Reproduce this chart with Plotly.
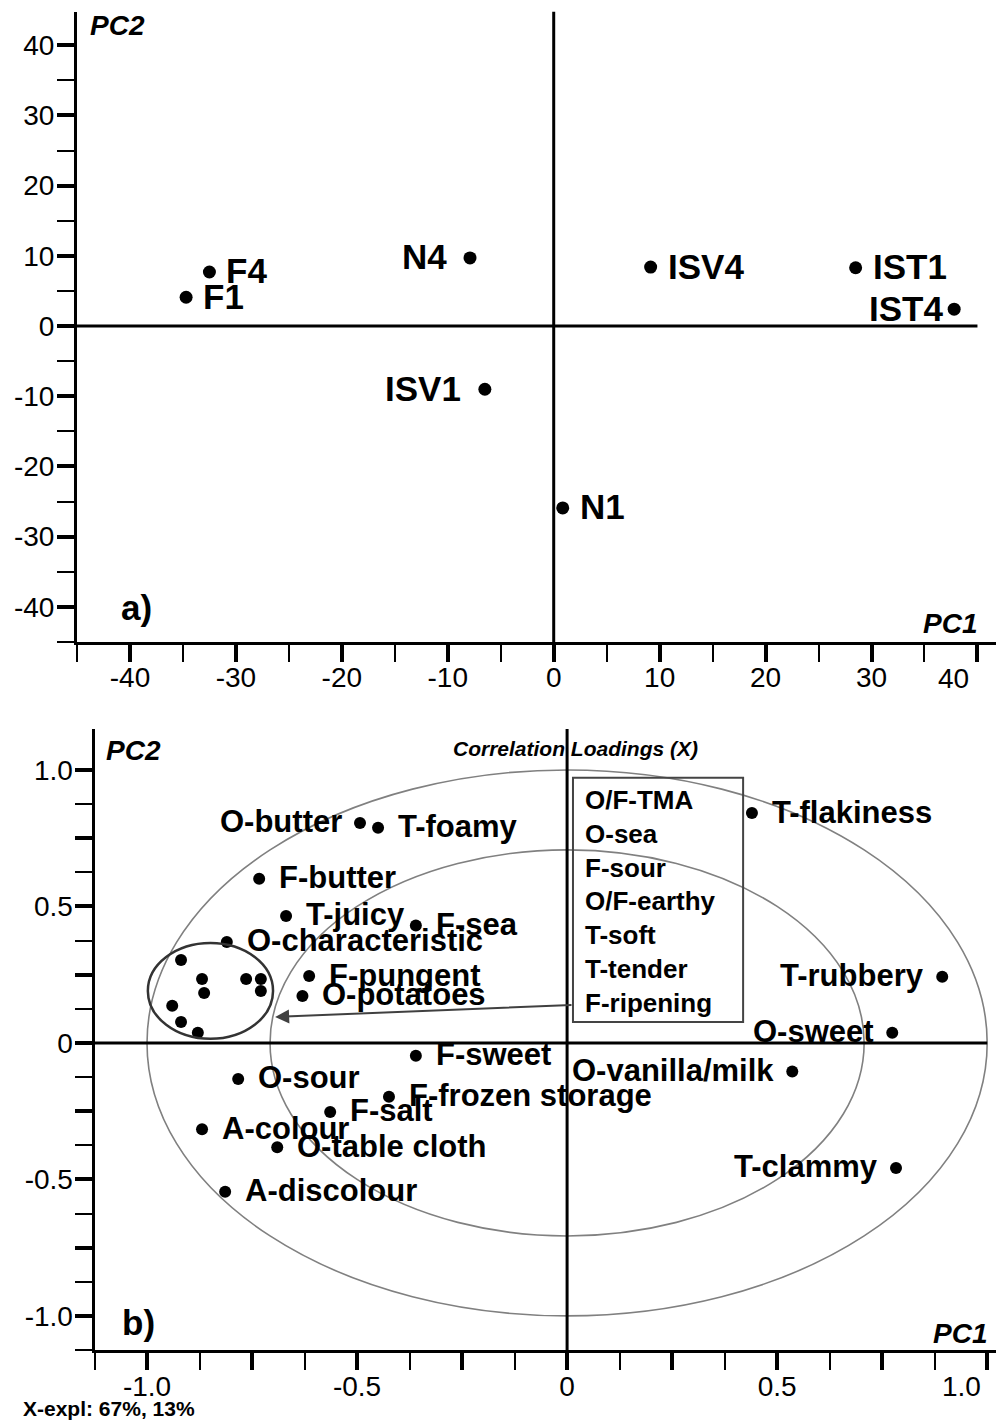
import plotly.graph_objects as go

# ---------------- data ----------------
# a) scores
score_names = ["F4", "F1", "N4", "ISV4", "IST1", "IST4", "ISV1", "N1"]
score_pc1 = [-32.5, -34.7, -7.9, 9.15, 28.5, 37.8, -6.5, 0.85]
score_pc2 = [7.7, 4.1, 9.7, 8.4, 8.3, 2.4, -9.0, -25.9]
score_side = ["right", "right", "left", "right", "right", "left", "left", "right"]

# b) correlation loadings (labelled)
load_names = ["O-butter", "T-foamy", "F-butter", "T-juicy", "F-sea", "O-characteristic",
              "F-pungent", "O-potatoes", "T-flakiness", "T-rubbery", "O-sweet",
              "O-vanilla/milk", "T-clammy", "F-sweet", "O-sour", "F-frozen storage",
              "F-salt", "A-colour", "O-table cloth", "A-discolour"]
load_pc1 = [-0.493, -0.450, -0.733, -0.669, -0.360, -0.810, -0.614, -0.630, 0.440, 0.893,
            0.774, 0.536, 0.783, -0.360, -0.783, -0.424, -0.564, -0.869, -0.690, -0.814]
load_pc2 = [0.806, 0.788, 0.601, 0.465, 0.430, 0.370, 0.245, 0.172, 0.842, 0.242,
            0.037, -0.105, -0.458, -0.047, -0.132, -0.197, -0.253, -0.316, -0.382, -0.545]
load_side = ["left", "right", "right", "right", "right", "right", "right", "right", "right", "left",
             "left", "left", "left", "right", "right", "right", "right", "right", "right", "right"]

# b) unlabelled cluster of loadings (names listed in the box)
cluster_pc1 = [-0.919, -0.869, -0.864, -0.764, -0.729, -0.729, -0.940, -0.919, -0.879]
cluster_pc2 = [0.304, 0.234, 0.183, 0.234, 0.234, 0.190, 0.136, 0.077, 0.037]
cluster_names = ["O/F-TMA", "O-sea", "F-sour", "O/F-earthy", "T-soft", "T-tender", "F-ripening"]

# axis ticks
a_x_ticks = [-40, -30, -20, -10, 0, 10, 20, 30, 40]
a_x_minor = [-45, -35, -25, -15, -5, 5, 15, 25, 35]
a_y_ticks = [-40, -30, -20, -10, 0, 10, 20, 30, 40]
a_y_minor = [-45, -35, -25, -15, -5, 5, 15, 25, 35]
b_ticks = [-1.0, -0.75, -0.5, -0.25, 0, 0.25, 0.5, 0.75, 1.0]
b_tick_text = ["-1.0", "", "-0.5", "", "0", "", "0.5", "", "1.0"]
b_minor = [-1.125, -0.875, -0.625, -0.375, -0.125, 0.125, 0.375, 0.625, 0.875]

# ---------------- layout helpers ----------------
W, H = 996, 1420
FONT = "Liberation Sans, Arial, sans-serif"


def pxx(p):
    return p / W


def pxy(p):
    return 1 - p / H


fig = go.Figure()

fig.add_trace(go.Scatter(x=score_pc1, y=score_pc2, mode="markers", xaxis="x", yaxis="y",
                         marker=dict(color="black", size=13), showlegend=False, hoverinfo="skip"))
fig.add_trace(go.Scatter(x=load_pc1, y=load_pc2, mode="markers", xaxis="x2", yaxis="y2",
                         marker=dict(color="black", size=12), showlegend=False, hoverinfo="skip"))
fig.add_trace(go.Scatter(x=cluster_pc1, y=cluster_pc2, mode="markers", xaxis="x2", yaxis="y2",
                         marker=dict(color="black", size=12), showlegend=False, hoverinfo="skip"))

annotations = []
bold = dict(family=FONT, color="black", weight="bold")

# score labels
a_shift = {"N4": 21, "ISV1": 22, "IST4": 9}
for n, x, y, s in zip(score_names, score_pc1, score_pc2, score_side):
    d = a_shift.get(n, 15)
    annotations.append(dict(x=x, y=y, xref="x", yref="y", text=n, showarrow=False,
                            xanchor="left" if s == "right" else "right",
                            xshift=d if s == "right" else -d, yanchor="middle", yshift=1,
                            font=dict(bold, size=35)))

# loading labels
for n, x, y, s in zip(load_names, load_pc1, load_pc2, load_side):
    d = 18 if s == "right" else 16
    annotations.append(dict(x=x, y=y, xref="x2", yref="y2", text=n, showarrow=False,
                            xanchor="left" if s == "right" else "right",
                            xshift=d if s == "right" else -d, yanchor="middle", yshift=1,
                            font=dict(bold, size=31)))

# box with cluster names
box_x0, box_x1, box_y0, box_y1 = 0.014, 0.419, 0.077, 0.971
annotations.append(dict(x=box_x0, y=(box_y0 + box_y1) / 2, xref="x2", yref="y2",
                        text="<br>".join(cluster_names), showarrow=False, align="left",
                        xanchor="left", xshift=10, yanchor="middle", yshift=-2,
                        font=dict(bold, size=26)))

# arrow from box to cluster
annotations.append(dict(x=-0.695, y=0.095, ax=box_x0, ay=0.139, xref="x2", yref="y2",
                        axref="x2", ayref="y2", text="", showarrow=True, arrowhead=2,
                        arrowsize=1.4, arrowwidth=2, arrowcolor="#404040", standoff=0))

# last x tick labels, pulled inside the page as in the original
tickfont = dict(family=FONT, size=28, color="black")
annotations += [
    dict(x=a_x_ticks[-1], y=pxy(678), xref="x", yref="paper", text=str(a_x_ticks[-1]),
         showarrow=False, xanchor="center", yanchor="middle", xshift=-24, font=tickfont),
    dict(x=b_ticks[-1], y=pxy(1386), xref="x2", yref="paper", text=b_tick_text[-1],
         showarrow=False, xanchor="center", yanchor="middle", xshift=-26, font=tickfont),
]

# axis titles and panel labels
bi = dict(family=FONT, color="black", weight="bold", style="italic")
annotations += [
    dict(x=pxx(117), y=pxy(26), xref="paper", yref="paper", text="PC2", showarrow=False,
         xanchor="center", yanchor="middle", font=dict(bi, size=28)),
    dict(x=pxx(950), y=pxy(623), xref="paper", yref="paper", text="PC1", showarrow=False,
         xanchor="center", yanchor="middle", font=dict(bi, size=28)),
    dict(x=pxx(136), y=pxy(607), xref="paper", yref="paper", text="a)", showarrow=False,
         xanchor="center", yanchor="middle", font=dict(bold, size=35)),
    dict(x=pxx(133), y=pxy(750), xref="paper", yref="paper", text="PC2", showarrow=False,
         xanchor="center", yanchor="middle", font=dict(bi, size=28)),
    dict(x=pxx(960), y=pxy(1333), xref="paper", yref="paper", text="PC1", showarrow=False,
         xanchor="center", yanchor="middle", font=dict(bi, size=28)),
    dict(x=pxx(138), y=pxy(1322), xref="paper", yref="paper", text="b)", showarrow=False,
         xanchor="center", yanchor="middle", font=dict(bold, size=35)),
    dict(x=pxx(575), y=pxy(748), xref="paper", yref="paper", text="Correlation Loadings (X)",
         showarrow=False, xanchor="center", yanchor="middle", font=dict(bi, size=21)),
    dict(x=pxx(21), y=pxy(1408), xref="paper", yref="paper", text="X-expl: 67%, 13%",
         showarrow=False, xanchor="left", yanchor="middle", font=dict(bold, size=21)),
]

shapes = [
    # a) zero lines
    dict(type="line", xref="x", yref="y", x0=-45, x1=40, y0=0, y1=0,
         line=dict(color="black", width=3), layer="below"),
    dict(type="line", xref="x", yref="y", x0=0, x1=0, y0=-45, y1=44.8,
         line=dict(color="black", width=3), layer="below"),
    # b) correlation circles
    dict(type="circle", xref="x2", yref="y2", x0=-1, x1=1, y0=-1, y1=1,
         line=dict(color="#808080", width=1.6), layer="below"),
    dict(type="circle", xref="x2", yref="y2", x0=-0.7071, x1=0.7071, y0=-0.7071, y1=0.7071,
         line=dict(color="#808080", width=1.6), layer="below"),
    # b) zero lines
    dict(type="line", xref="x2", yref="y2", x0=-1.125, x1=1.0, y0=0, y1=0,
         line=dict(color="black", width=3), layer="below"),
    dict(type="line", xref="x2", yref="y2", x0=0, x1=0, y0=-1.125, y1=1.15,
         line=dict(color="black", width=3), layer="below"),
    # cluster ellipse
    dict(type="circle", xref="x2", yref="y2", x0=-0.998, x1=-0.700, y0=0.015, y1=0.366,
         line=dict(color="#333333", width=2.5)),
    # box
    dict(type="rect", xref="x2", yref="y2", x0=box_x0, x1=box_x1, y0=box_y0, y1=box_y1,
         line=dict(color="#444444", width=2)),
]

common = dict(showgrid=False, zeroline=False, showline=True, linecolor="black", linewidth=3,
              ticks="outside", ticklen=17, tickwidth=4, tickcolor="black", tickfont=tickfont,
              fixedrange=True, automargin=False)

a_x_text = [str(v) for v in a_x_ticks]
a_x_text[-1] = ""
a_y_text = [str(v) for v in a_y_ticks]
b_x_text = list(b_tick_text)
b_x_text[-1] = ""

fig.update_layout(
    width=W, height=H, autosize=False,
    margin=dict(l=0, r=0, t=0, b=0, autoexpand=False),
    paper_bgcolor="white", plot_bgcolor="white",
    showlegend=False,
    xaxis=dict(common, domain=[pxx(77), 1.0], range=[-45, 41.75], anchor="y",
               tickvals=a_x_ticks, ticktext=a_x_text, ticklabelstandoff=-9,
               minor=dict(tickvals=a_x_minor, ticks="outside", ticklen=17, tickwidth=2,
                          tickcolor="black", showgrid=False)),
    yaxis=dict(common, domain=[pxy(642), pxy(11.5)], range=[-45, 44.8], anchor="x",
               tickvals=a_y_ticks, ticktext=a_y_text, ticklabelstandoff=-3,
               minor=dict(tickvals=a_y_minor, ticks="outside", ticklen=17, tickwidth=2,
                          tickcolor="black", showgrid=False)),
    xaxis2=dict(common, domain=[pxx(94.5), 1.0], range=[-1.125, 1.021], anchor="y2",
                tickvals=b_ticks, ticktext=b_x_text, ticklabelstandoff=-8,
                minor=dict(tickvals=b_minor, ticks="outside", ticklen=17, tickwidth=2,
                           tickcolor="black", showgrid=False)),
    yaxis2=dict(common, domain=[pxy(1350), pxy(729)], range=[-1.125, 1.15], anchor="x2",
                tickvals=b_ticks, ticktext=b_tick_text, ticklabelstandoff=-4,
                minor=dict(tickvals=b_minor, ticks="outside", ticklen=17, tickwidth=2,
                           tickcolor="black", showgrid=False)),
    annotations=annotations,
    shapes=shapes,
)

fig.write_html("out.html")
